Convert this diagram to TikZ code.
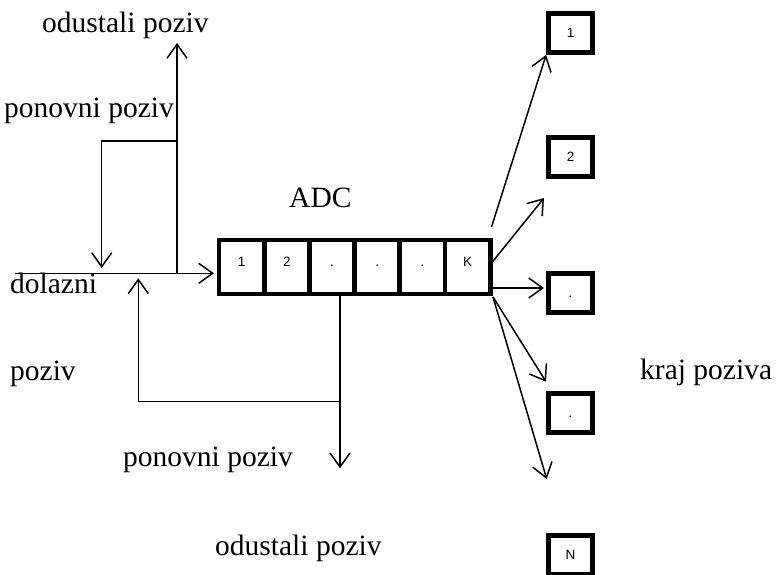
\documentclass[tikz,border=0pt]{standalone}
\usepackage{fontspec}
\setmainfont{Liberation Serif}
\newfontfamily\boxfont{Liberation Sans}
\usetikzlibrary{arrows.meta,calc}

\tikzset{
  wire/.style={line width=1.5pt},
  flow/.style={wire, -{Straight Barb[length=14pt,width=20pt]}},
  cell/.style={draw, line width=4.8pt, minimum width=45.2pt, minimum height=54pt,
    inner sep=0pt, font=\boxfont\fontsize{13.5}{15}\selectfont,
    text height=9.7pt, text depth=10.7pt},
  slot/.style={draw, line width=4.8pt, minimum width=44pt, minimum height=39pt,
    inner sep=0pt, font=\boxfont\fontsize{13.5}{15}\selectfont,
    text height=9.7pt, text depth=0pt},
  lbl/.style={anchor=base west, inner sep=0pt, font=\fontsize{29.5}{32}\selectfont}
}

\begin{document}
\begin{tikzpicture}[x=1pt, y=-1pt]
    \useasboundingbox (0,0) rectangle (776,575);

    % the queue of K places
    \foreach \t [count=\i] in {1,2,.,.,.,K}
        \node[cell] (c\i) at ({219+45.2*(\i-0.5)},267) {\t};

    % the N servers
    \foreach \t/\y [count=\i] in {1/33,2/157,./293,./413,N/555}
        \node[slot] (s\i) at (570.5,\y) {\t};

    % texts
    \node[lbl] (adc) at (289,207) {ADC};
    \node[lbl] (odu1) at (42,33) {odustali poziv};
    \node[lbl] (pon1) at (4,118) {ponovni poziv};
    \node[lbl] (dol) at (10,293) {dolazni};
    \node[lbl] (poz) at (10,380) {poziv};
    \node[lbl] (kraj) at (640,379) {kraj poziva};
    \node[lbl] (pon2) at (123,466) {ponovni poziv};
    \node[lbl] (odu2) at (215,555) {odustali poziv};

    % points of the call flow
    \coordinate (in) at (15,273.3);
    \coordinate (qin) at (214,273.3);
    \coordinate (up) at (177,273.3);
    \coordinate (upend) at (177,43);
    \coordinate (r1) at (177,141);
    \coordinate (r2) at (101.7,141);
    \coordinate (r3) at (101.7,268);
    \coordinate (d1) at (340,296);
    \coordinate (d2) at (340,401.7);
    \coordinate (d3) at (138.3,401.7);
    \coordinate (d4) at (138.3,278.3);
    \coordinate (dend) at (340,468.3);

    % incoming calls, giving up and calling again
    \draw[flow] (in) -- (qin);
    \draw[flow] (up) -- (upend);
    \draw[flow] (r1) -- (r2) -- (r3);
    \draw[wire] (d1) -- (d2);
    \draw[flow] (d2) -- (d3) -- (d4);
    \draw[flow] (d2) -- (dend);

    % from the queue to the servers
    \coordinate (k1) at (491.5,227);
    \coordinate (k2) at (491.5,263);
    \coordinate (k3) at (490,288);
    \coordinate (k4) at (493,297);
    \coordinate (e2) at (544,198);
    \coordinate (e3) at (544,288);
    \coordinate (e4) at (546,381.7);
    \coordinate (e5) at (546.7,479);
    \draw[flow] (k1) -- (s1.south west);
    \draw[flow] (k2) -- (e2);
    \draw[flow] (k3) -- (e3);
    \draw[flow] (k4) -- (e4);
    \draw[flow] (k4) -- (e5);
\end{tikzpicture}
\end{document}
